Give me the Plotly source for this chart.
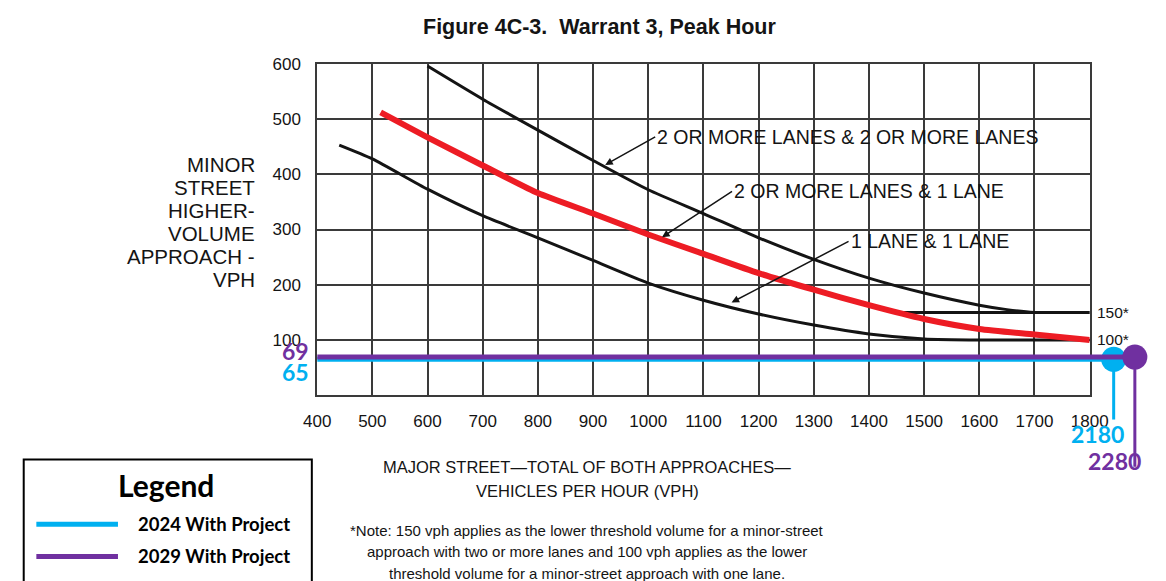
import plotly.graph_objects as go

# ─── Data ────────────────────────────────────────────────────
# curve "2 OR MORE LANES & 2 OR MORE LANES"
top_x = [600, 700, 800, 900, 1000, 1100, 1200, 1300, 1400, 1500, 1600, 1650, 1700, 1800]
top_y = [596, 536, 480, 425, 372, 329, 285, 246, 212, 185, 163, 155, 150, 150]
# curve "2 OR MORE LANES & 1 LANE" (highlighted in red)
mid_x = [515, 600, 700, 800, 900, 1000, 1100, 1200, 1300, 1400, 1500, 1600, 1700, 1800]
mid_y = [512, 467, 416, 366, 329, 291, 256, 221, 191, 163, 138, 120, 110, 100]
# curve "1 LANE & 1 LANE"
low_x = [440, 500, 600, 700, 800, 900, 1000, 1100, 1200, 1300, 1400, 1500, 1600, 1700, 1800]
low_y = [453, 428, 373, 325, 285, 244, 203, 172, 147, 127, 111, 102, 100, 100, 100]
# 150* lower threshold segment
thr_x = [1450, 1800]
thr_y = [150, 150]

# project volumes
scenarios = ['2024 With Project', '2029 With Project']
minor_vph = [65, 69]
major_vph = [2180, 2280]

BLUE, PURPLE, RED, INK = '#00B0F0', '#7030A0', '#ED1C24', '#141414'
colors = [BLUE, PURPLE]

# ─── Page geometry (pixels) ──────────────────────────────────
W, H = 1166, 581
PX_L, PX_R = 312, 1107      # x = 400 / 1800
PX_T, PX_B = 55.7, 392.3    # y = 600 / 0
y_scale = (PX_B - PX_T) / 600.0


def px2paper(px, py):
    return px / W, 1 - py / H


def y2_at(py):
    return 600 - (py - PX_T) / y_scale


# off-scale overlay axis: circles sit just right of the 1800 border
circle_px = [1131.7, 1153.5]
k = (circle_px[1] - circle_px[0]) / (major_vph[1] - major_vph[0])
x2_lo = major_vph[0] - (circle_px[0] - PX_L) / k
x2_hi = major_vph[1] + (W - circle_px[1]) / k
y2_lo = y2_at(H)

fig = go.Figure()

# ─── Warrant curves ──────────────────────────────────────────
for xs, ys in [(top_x, top_y), (low_x, low_y), (thr_x, thr_y)]:
    fig.add_trace(go.Scatter(
        x=xs, y=ys, mode='lines', hoverinfo='skip',
        line=dict(color=INK, width=3, shape='spline', smoothing=0.6)
    ))
fig.add_trace(go.Scatter(
    x=mid_x, y=mid_y, mode='lines', hoverinfo='skip',
    line=dict(color=RED, width=6, shape='spline', smoothing=0.6)
))

# ─── Project volume overlay ──────────────────────────────────
leader_end_px = [417, 465]
label_px = [432, 459]
label_shift = [12, 8]
for i in range(2):
    fig.add_trace(go.Scatter(
        x=[x2_lo, major_vph[i]], y=[minor_vph[i], minor_vph[i]],
        mode='lines', line=dict(color=colors[i], width=5),
        xaxis='x2', yaxis='y2', hoverinfo='skip'
    ))
    fig.add_trace(go.Scatter(
        x=[major_vph[i], major_vph[i]], y=[minor_vph[i], y2_at(leader_end_px[i])],
        mode='lines', line=dict(color=colors[i], width=3),
        xaxis='x2', yaxis='y2', hoverinfo='skip'
    ))
    fig.add_trace(go.Scatter(
        x=[major_vph[i]], y=[minor_vph[i]], mode='markers',
        marker=dict(color=colors[i], size=25, line_width=0),
        xaxis='x2', yaxis='y2', cliponaxis=False, hoverinfo='skip'
    ))
    fig.add_annotation(
        x=major_vph[i], y=y2_at(label_px[i]), xref='x2', yref='y2',
        text=f"<b>{major_vph[i]}</b>", showarrow=False,
        xanchor='right', yanchor='middle', xshift=label_shift[i],
        font=dict(family='Lato, sans-serif', size=23, color=colors[i])
    )

# minor-street labels left of the axis
for i, shift in zip(range(2), [-13, 6]):
    fig.add_annotation(
        x=306 / W, xref='paper', y=minor_vph[i], yref='y',
        text=f"<b>{minor_vph[i]}</b>", showarrow=False,
        xanchor='right', yanchor='middle', yshift=shift,
        font=dict(family='Lato, sans-serif', size=23, color=colors[i])
    )

# ─── Curve labels with leaders ───────────────────────────────
curve_labels = [
    ('2 OR MORE LANES & 2 OR MORE LANES', 922, 417, 50, -28),
    ('2 OR MORE LANES & 1 LANE', 1025, 286, 70, -46),
    ('1 LANE & 1 LANE', 1151, 168, 117, -61),
]
for txt, hx, hy, ax, ay in curve_labels:
    fig.add_annotation(
        x=hx, y=hy, text=txt, ax=ax, ay=ay, showarrow=True,
        arrowhead=2, arrowsize=1, arrowwidth=1.5, arrowcolor=INK,
        xanchor='left', yanchor='middle', standoff=0,
        font=dict(size=19.5, color=INK)
    )

for val in [150, 100]:
    fig.add_annotation(
        x=1800, y=val, text=f"{val}*", showarrow=False,
        xanchor='left', yanchor='middle', xshift=5,
        font=dict(size=15.5, color=INK)
    )


# ─── Free text ───────────────────────────────────────────────
def add_text(text, px, py, size, anchor='center', bold=False, family=None, color=INK):
    x, y = px2paper(px, py)
    fig.add_annotation(
        x=x, y=y, xref='paper', yref='paper', showarrow=False,
        text=f"<b>{text}</b>" if bold else text,
        xanchor=anchor, yanchor='middle', align=anchor if anchor != 'center' else 'center',
        font=dict(size=size, color=color, family=family or 'Liberation Sans, Arial, sans-serif')
    )


add_text('Figure 4C-3.\u00a0 Warrant 3, Peak Hour', 603, 18, 21.5, bold=True)

y_title = ['MINOR', 'STREET', 'HIGHER-', 'VOLUME', 'APPROACH -', 'VPH']
for j, line in enumerate(y_title):
    add_text(line, 250, 158 + j * 23.4, 20.5, anchor='right')

add_text('MAJOR STREET\u2014TOTAL OF BOTH APPROACHES\u2014', 590, 465, 16.5)
add_text('VEHICLES PER HOUR (VPH)', 590, 490, 16.5)

note = [
    '*Note: 150 vph applies as the lower threshold volume for a minor-street',
    'approach with two or more lanes and 100 vph applies as the lower',
    'threshold volume for a minor-street approach with one lane.',
]
for j, line in enumerate(note):
    add_text(line, 590, 530 + j * 21.5, 15)

# ─── Legend box ──────────────────────────────────────────────
fig.add_shape(type='rect', xref='paper', yref='paper',
              x0=10 / W, x1=306.5 / W, y0=-0.1, y1=1 - 457.5 / H,
              line=dict(color='black', width=2), fillcolor='white')
add_text('Legend', 156, 483, 30, bold=True, family='Lato, sans-serif', color='black')
for i, py in enumerate([523.3, 556]):
    fig.add_shape(type='line', xref='paper', yref='paper',
                  x0=23 / W, x1=107 / W, y0=1 - py / H, y1=1 - py / H,
                  line=dict(color=colors[i], width=5))
    add_text(scenarios[i], 126, py, 18.5, anchor='left', bold=True,
             family='Lato, sans-serif', color='black')

# ─── Layout ──────────────────────────────────────────────────
grid = '#3a3a3a'
fig.update_layout(
    width=W, height=H, autosize=False,
    margin=dict(l=0, r=0, t=0, b=0),
    paper_bgcolor='white', plot_bgcolor='rgba(0,0,0,0)',
    showlegend=False,
    font=dict(family='Liberation Sans, Arial, sans-serif', color=INK),
    xaxis=dict(
        domain=[PX_L / W, PX_R / W], range=[400, 1800],
        tickvals=list(range(400, 1801, 100)),
        showgrid=True, gridcolor=grid, gridwidth=1.6, zeroline=False,
        showline=True, mirror=True, linecolor=grid, linewidth=1.8,
        ticks='', ticklabelstandoff=9, tickfont=dict(size=17, color=INK)
    ),
    yaxis=dict(
        domain=[1 - PX_B / H, 1 - PX_T / H], range=[0, 600],
        tickvals=list(range(100, 601, 100)),
        showgrid=True, gridcolor=grid, gridwidth=1.6, zeroline=False,
        showline=True, mirror=True, linecolor=grid, linewidth=1.8,
        ticks='', ticklabelstandoff=11, tickfont=dict(size=17, color=INK)
    ),
    xaxis2=dict(domain=[PX_L / W, 1], range=[x2_lo, x2_hi], anchor='y2', visible=False),
    yaxis2=dict(domain=[0, 1 - PX_T / H], range=[y2_lo, 600], anchor='x2', visible=False),
)

fig.write_html(
    "out.html",
    config={'responsive': False, 'displayModeBar': False},
    post_script="document.body.style.margin='0';",
)
